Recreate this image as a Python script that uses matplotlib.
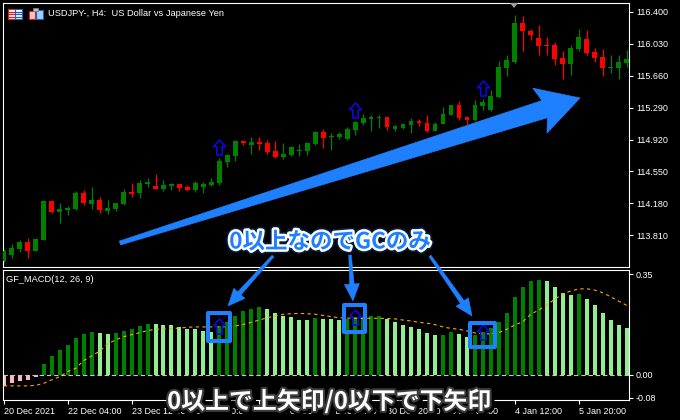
import numpy as np
import matplotlib
matplotlib.use("Agg")
import matplotlib.pyplot as plt
import matplotlib.patheffects as pe
from matplotlib.path import Path
from matplotlib.patches import Polygon, Rectangle
from matplotlib.transforms import offset_copy

# ---- USDJPY H4 candles -------------------------------------------------
opens = [113.514, 113.583, 113.653, 113.734, 113.629, 113.757, 114.208, 114.081, 114.104, 114.116,
         114.301, 114.174, 114.220, 114.093, 114.116, 114.174, 114.313, 114.301, 114.405, 114.382,
         114.347, 114.382, 114.405, 114.371, 114.336, 114.371, 114.394, 114.417, 114.660, 114.730,
         114.903, 114.857, 114.892, 114.880, 114.787, 114.718, 114.741, 114.787, 114.787, 114.869,
         115.007, 114.950, 114.950, 114.926, 115.031, 115.112, 115.158, 115.170, 115.181, 115.042,
         115.054, 115.089, 115.135, 115.112, 115.019, 115.100, 115.204, 115.320, 115.181, 115.146,
         115.309, 115.262, 115.413, 115.749, 115.818, 116.270, 116.177, 116.096, 116.015, 116.015,
         115.864, 115.795, 115.969, 116.084, 115.934, 115.876, 115.749, 115.749, 115.806]
highs = [113.653, 113.711, 113.757, 113.780, 113.780, 114.220, 114.208, 114.185, 114.151, 114.324,
         114.336, 114.371, 114.255, 114.220, 114.185, 114.347, 114.417, 114.452, 114.475, 114.521,
         114.452, 114.417, 114.405, 114.394, 114.440, 114.428, 114.475, 114.706, 114.753, 114.915,
         114.915, 114.950, 114.950, 114.915, 114.903, 114.880, 114.845, 114.869, 114.892, 115.019,
         115.042, 114.996, 115.007, 115.065, 115.135, 115.216, 115.204, 115.204, 115.181, 115.089,
         115.112, 115.170, 115.158, 115.204, 115.123, 115.297, 115.320, 115.366, 115.181, 115.378,
         115.390, 115.494, 115.830, 115.899, 116.362, 116.351, 116.200, 116.247, 116.108, 116.050,
         115.945, 116.015, 116.200, 116.189, 115.980, 115.969, 115.899, 115.899, 115.957]
lows = [113.502, 113.548, 113.618, 113.548, 113.629, 113.757, 114.070, 113.954, 114.046, 114.104,
        114.162, 114.116, 114.070, 114.058, 114.093, 114.162, 114.255, 114.243, 114.371, 114.347,
        114.324, 114.336, 114.324, 114.324, 114.313, 114.301, 114.382, 114.394, 114.602, 114.672,
        114.857, 114.753, 114.799, 114.753, 114.706, 114.695, 114.730, 114.730, 114.741, 114.857,
        114.822, 114.799, 114.926, 114.915, 114.973, 115.089, 115.019, 115.054, 115.031, 115.019,
        115.042, 114.996, 115.077, 115.007, 115.019, 115.100, 115.204, 115.146, 115.089, 115.135,
        115.262, 115.251, 115.401, 115.656, 115.806, 115.945, 116.073, 115.899, 115.899, 115.783,
        115.621, 115.668, 115.945, 115.899, 115.818, 115.656, 115.691, 115.621, 115.760]
closes = [113.629, 113.664, 113.734, 113.629, 113.768, 114.208, 114.081, 114.116, 114.127, 114.301,
          114.185, 114.220, 114.104, 114.127, 114.185, 114.313, 114.290, 114.417, 114.428, 114.347,
          114.394, 114.405, 114.359, 114.336, 114.417, 114.405, 114.428, 114.672, 114.741, 114.903,
          114.880, 114.892, 114.869, 114.776, 114.718, 114.753, 114.834, 114.799, 114.880, 115.007,
          114.938, 114.961, 114.984, 115.042, 115.123, 115.170, 115.181, 115.181, 115.065, 115.077,
          115.100, 115.135, 115.112, 115.019, 115.100, 115.216, 115.320, 115.170, 115.146, 115.320,
          115.355, 115.424, 115.760, 115.841, 116.270, 116.177, 116.131, 116.003, 116.003, 115.853,
          115.795, 115.980, 116.108, 115.922, 115.864, 115.749, 115.760, 115.818, 115.853]

# ---- GF_MACD(12, 26, 9) ------------------------------------------------
macd = [-0.040, -0.028, -0.020, -0.019, -0.006, 0.038, 0.066, 0.087, 0.104, 0.129,
        0.143, 0.149, 0.146, 0.143, 0.146, 0.153, 0.160, 0.170, 0.177, 0.176,
        0.175, 0.174, 0.167, 0.160, 0.159, 0.153, 0.150, 0.172, 0.184, 0.205,
        0.222, 0.229, 0.236, 0.229, 0.215, 0.205, 0.202, 0.191, 0.190, 0.198,
        0.195, 0.194, 0.191, 0.193, 0.201, 0.203, 0.205, 0.206, 0.195, 0.184,
        0.174, 0.167, 0.160, 0.146, 0.139, 0.140, 0.150, 0.143, 0.132, 0.138,
        0.150, 0.165, 0.184, 0.215, 0.271, 0.306, 0.327, 0.330, 0.327, 0.306,
        0.285, 0.278, 0.281, 0.264, 0.243, 0.215, 0.191, 0.174, 0.163]
signal = [-0.038, -0.038, -0.038, -0.038, -0.036, -0.029, -0.017, -0.006, 0.012, 0.023,
          0.050, 0.066, 0.083, 0.108, 0.122, 0.133, 0.140, 0.147, 0.154, 0.159,
          0.160, 0.161, 0.163, 0.166, 0.167, 0.167, 0.167, 0.167, 0.168, 0.170,
          0.176, 0.183, 0.191, 0.199, 0.205, 0.211, 0.213, 0.214, 0.213, 0.211,
          0.207, 0.203, 0.199, 0.198, 0.197, 0.197, 0.197, 0.197, 0.196, 0.195,
          0.191, 0.188, 0.183, 0.180, 0.175, 0.167, 0.162, 0.159, 0.153, 0.146,
          0.143, 0.143, 0.148, 0.159, 0.174, 0.185, 0.211, 0.226, 0.244, 0.263,
          0.282, 0.292, 0.299, 0.300, 0.295, 0.286, 0.272, 0.257, 0.242]

price_ticks = [116.400, 116.030, 115.660, 115.290, 114.920, 114.550, 114.180, 113.810]
macd_ticks = [0.35, 0.00, -0.08]
date_bars = [0, 8, 16, 24, 32, 40, 48, 56, 64, 72]
date_labels = ["20 Dec 2021", "22 Dec 04:00", "23 Dec 12:00", "24 Dec 20:00", "28 Dec 04:00",
               "29 Dec 12:00", "30 Dec 20:00", "3 Jan 04:00", "4 Jan 12:00", "5 Jan 20:00"]

title_text = "USDJPY-, H4:  US Dollar vs Japanese Yen"
ind_text = "GF_MACD(12, 26, 9)"
note_gc = "0以上なのでGCのみ"
note_rule = "0以上で上矢印/0以下で下矢印"

plt.rcParams["font.family"] = ["Liberation Sans", "DejaVu Sans"]
CJK = ["Noto Sans CJK JP", "DejaVu Sans"]

W, H, DPI = 680, 420, 100
fig = plt.figure(figsize=(W / DPI, H / DPI), dpi=DPI, facecolor="black")


def px_box(x0, y0, x1, y1):
    return [x0 / W, 1 - y1 / H, (x1 - x0) / W, (y1 - y0) / H]


ax = fig.add_axes(px_box(3, 3, 629, 267))
sub = fig.add_axes(px_box(3, 270, 629, 400))

x = np.arange(len(opens))
o, h, l, c = (np.array(v) for v in (opens, highs, lows, closes))
m, s = np.array(macd), np.array(signal)

# candles
GREEN, RED = "#008000", "#ff0000"
ccol = np.where(c >= o, GREEN, RED)
ax.vlines(x, l, h, colors=ccol, linewidth=0.9, zorder=2)
body_lo = np.minimum(o, c)
body_h = np.maximum(np.abs(c - o), 0.012)
ax.bar(x, body_h, width=0.6, bottom=body_lo, color=ccol, linewidth=0, zorder=3)

# golden cross above zero
gc = [i for i in range(1, len(m)) if m[i] > s[i] and m[i - 1] <= s[i - 1] and m[i] > 0]

arrow_path = Path([(0, 1), (0.8, 0.1), (0.36, 0.1), (0.36, -1), (-0.36, -1), (-0.36, 0.1),
                   (-0.8, 0.1), (0, 1)],
                  [Path.MOVETO] + [Path.LINETO] * 6 + [Path.CLOSEPOLY])
ARROW_BLUE = "#0a0ae0"
above = offset_copy(ax.transData, fig=fig, x=0, y=11, units="dots")
ax.plot(x[gc], h[gc], transform=above, ls="none", marker=arrow_path, ms=10.8,
        mfc="none", mec=ARROW_BLUE, mew=1.2, zorder=5)

ax.set_xlim(-0.1, 78.3)
ax.set_ylim(113.444, 116.501)

# MACD histogram
hist_col = []
for i, v in enumerate(m):
    if v < 0:
        hist_col.append("#ffb6c1")
    elif i > 0 and v < m[i - 1]:
        hist_col.append("#90ee90")
    else:
        hist_col.append(GREEN)
sub.bar(x, m, width=0.5, color=hist_col, linewidth=0, zorder=2)
sub.plot(x, s, color="#ffa500", lw=0.8, ls=(0, (3, 3)), zorder=3)
sub.axhline(0, color="#c8c8c8", lw=0.8, ls=(0, (4, 2.5)), zorder=4)
sub.plot(x[gc], m[gc], ls="none", marker=arrow_path, ms=10.8,
         mfc="none", mec=ARROW_BLUE, mew=1.2, zorder=5)
sub.set_xlim(-0.1, 78.3)
sub.set_ylim(-0.087, 0.365)

for a in (ax, sub):
    a.set_facecolor("black")
    for sp in a.spines.values():
        sp.set_color("white")
        sp.set_linewidth(0.8)
    a.yaxis.tick_right()
    a.tick_params(axis="both", colors="white", labelcolor="white", length=3,
                  width=0.8, pad=2, labelsize=6.5)

ax.set_yticks(price_ticks, [f"{v:.3f}" for v in price_ticks])
ax.set_xticks([])
sub.set_yticks(macd_ticks, [f"{v:.2f}" for v in macd_ticks])
sub.set_xticks(date_bars, date_labels)
for lbl in sub.get_xticklabels():
    lbl.set_ha("left")

# overlay layer in pixel coordinates
ov = fig.add_axes([0, 0, 1, 1], zorder=20)
ov.set_xlim(0, W)
ov.set_ylim(H, 0)
ov.axis("off")
ov.patch.set_alpha(0)

ov.text(48, 14, title_text, color="white", fontsize=6.7, va="center", ha="left")
ov.text(6, 279, ind_text, color="white", fontsize=6.7, va="center", ha="left")

# toolbar icons
ov.add_patch(Rectangle((7.5, 8.5), 7, 10.5, fc="white", ec="#e02020", lw=0.8))
ov.add_patch(Rectangle((14.5, 8.5), 7, 10.5, fc="white", ec="#2060c0", lw=0.8))
for yy in (11.5, 14, 16.5):
    ov.plot([9, 13.5], [yy, yy], color="#e02020", lw=0.9)
    ov.plot([16, 20.5], [yy, yy], color="#2060c0", lw=0.9)
ov.add_patch(Rectangle((28.5, 10.5), 6.5, 8.5, fc="#ffc8c8", ec="#e02020", lw=0.8))
ov.add_patch(Rectangle((36, 9.5), 6.5, 9.5, fc="#9fd0ff", ec="#2060c0", lw=0.8))
ov.add_patch(Rectangle((32.5, 8), 5, 3, fc="#c0c0c0", ec="#808080", lw=0.6))

# chart shift marker
ov.add_patch(Polygon([(510, 3), (518, 3), (514, 8)], closed=True, fc="#a0a0a0", ec="none"))


def arrow_poly(tail, tip, w0, w1, head_w, head_len, barb=0.0):
    t = np.array(tail, float)
    p = np.array(tip, float)
    u = (p - t) / np.hypot(*(p - t))
    n = np.array([-u[1], u[0]])
    base = p - u * head_len
    back = base - u * barb
    return [t + n * w0 / 2, base + n * w1 / 2, back + n * head_w / 2, p,
            back - n * head_w / 2, base - n * w1 / 2, t - n * w0 / 2]


BLUE = "#1f80ff"
ov.add_patch(Polygon(arrow_poly((120, 243), (580, 98), 4, 18, 47, 37, 5),
                     closed=True, fc=BLUE, ec=BLUE, lw=0.5, zorder=2))
for tail, tip in [((273, 256), (228, 306)), ((350, 255), (353, 301)), ((430, 256), (472, 316))]:
    ov.add_patch(Polygon(arrow_poly(tail, tip, 2.5, 4.5, 15, 17),
                         closed=True, fc=BLUE, ec=BLUE, lw=0.4, zorder=2))

for x0, y0, x1, y1 in [(208, 313, 230, 341), (344, 305, 365, 332), (470, 322.5, 495, 347)]:
    ov.add_patch(Rectangle((x0, y0), x1 - x0, y1 - y0, fill=False, ec=BLUE, lw=2.9,
                           joinstyle="round", zorder=3))

ov.text(330, 242, note_gc, ha="center", va="center", fontsize=16.2, fontweight="bold",
        color=BLUE, family=CJK, zorder=4,
        path_effects=[pe.Stroke(linewidth=6, foreground="#0b3a78", alpha=0.45),
                      pe.Stroke(linewidth=3.5, foreground="white"), pe.Normal()])
ov.text(329, 401, note_rule, ha="center", va="center", fontsize=17.2, fontweight="bold",
        color="white", family=CJK, zorder=4,
        path_effects=[pe.Stroke(linewidth=4.5, foreground="#000000", offset=(1.2, -1.2)),
                      pe.Stroke(linewidth=3, foreground="#3c3c3c"), pe.Normal()])

fig.savefig("out.png", dpi=DPI, facecolor="black")
